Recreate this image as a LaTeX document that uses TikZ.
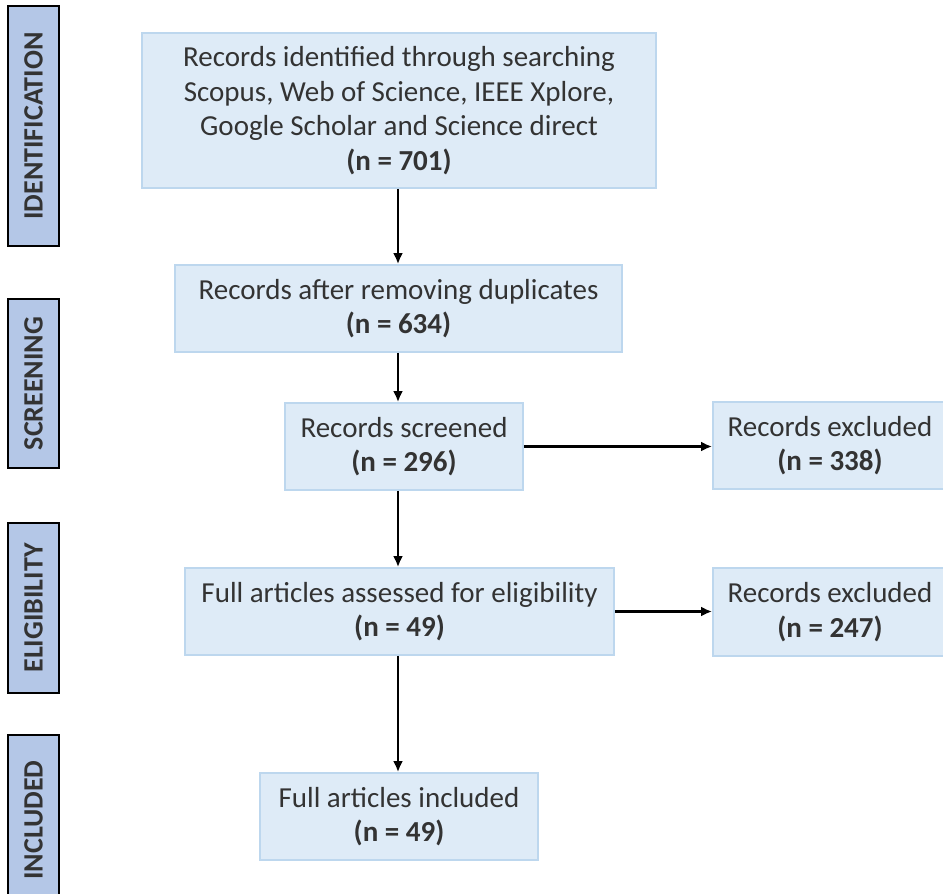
\documentclass[tikz,border=0pt]{standalone}
\usepackage{fontspec}
\setmainfont{Carlito}
\usetikzlibrary{arrows.meta,positioning}
\definecolor{stagefill}{HTML}{B4C7E7}
\definecolor{boxfill}{HTML}{DEEBF7}
\definecolor{boxline}{HTML}{BDD7EE}
\definecolor{textgray}{HTML}{333333}
\tikzset{
  stagebar/.style={draw=black, fill=stagefill, line width=2.4pt, rotate=90, minimum height=51, inner sep=0pt, text=textgray, font=\fontsize{28}{30}\selectfont\bfseries},
  recordbox/.style={draw=boxline, fill=boxfill, line width=1.8pt, align=center, inner sep=0pt, text=textgray, font=\fontsize{29}{34.5}\selectfont},
  flowarrow/.style={black, -{Latex[length=11pt,width=10pt]}, line width=2.4pt}
}
\begin{document}
\begin{tikzpicture}[x=1pt,y=-1pt]
  \useasboundingbox (0,0) rectangle (943,894);
  % stage bars on the left
  \node[stagebar, minimum width=240] (ident) at (33.5,126) {IDENTIFICATION};
  \node[stagebar, minimum width=169] (screen) at (33.5,383.5) {SCREENING};
  \node[stagebar, minimum width=170] (elig) at (33.5,608) {ELIGIBILITY};
  \node[stagebar, minimum width=170] (incl) at (33.5,820) {INCLUDED};
  % flow boxes
  \node[recordbox, minimum width=514, minimum height=155] (found) at (399,110.5) {Records identified through searching\\Scopus, Web of Science, IEEE Xplore,\\Google Scholar and Science direct\\\textbf{(n = 701)}};
  \node[recordbox, minimum width=447, minimum height=87] (dedup) at (398.5,308.5) {Records after removing duplicates\\\textbf{(n = 634)}};
  \node[recordbox, minimum width=238, minimum height=87] (screened) at (404,446.5) {Records screened\\\textbf{(n = 296)}};
  \node[recordbox, minimum width=234, minimum height=87] (excscreen) at (830,445.5) {Records excluded\\\textbf{(n = 338)}};
  \node[recordbox, minimum width=429, minimum height=87] (assessed) at (399.5,611.5) {Full articles assessed for eligibility\\\textbf{(n = 49)}};
  \node[recordbox, minimum width=234, minimum height=88] (exceligible) at (830,612) {Records excluded\\\textbf{(n = 247)}};
  \node[recordbox, minimum width=278, minimum height=87] (included) at (399,816.5) {Full articles included\\\textbf{(n = 49)}};
  % connectors
  \coordinate (spine) at (398,0);
  \draw[flowarrow] (found.south -| spine) -- (dedup.north -| spine);
  \draw[flowarrow] (dedup.south -| spine) -- (screened.north -| spine);
  \draw[flowarrow] (screened.south -| spine) -- (assessed.north -| spine);
  \draw[flowarrow] (assessed.south -| spine) -- (included.north -| spine);
  \draw[flowarrow] (screened.east) -- (screened.east -| excscreen.west);
  \draw[flowarrow] (assessed.east) -- (assessed.east -| exceligible.west);
\end{tikzpicture}
\end{document}
